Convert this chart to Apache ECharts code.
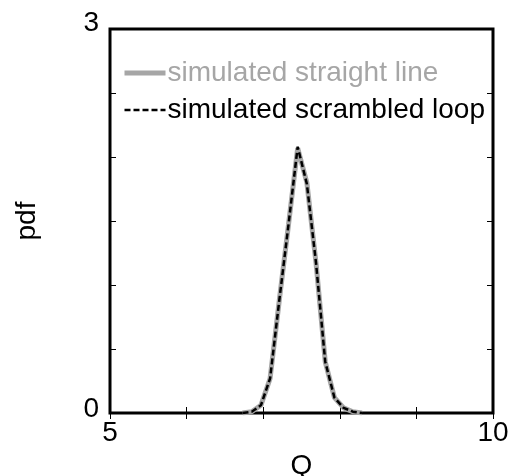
<!DOCTYPE html>
<html>
<head>
<meta charset="utf-8">
<script src="https://cdn.jsdelivr.net/npm/echarts@6/dist/echarts.min.js"></script>
<style>html,body{margin:0;padding:0;background:#fff}#c{width:512px;height:476px}</style>
</head>
<body>
<div id="c"></div>
<script>
const qValues = [6.73, 6.85, 6.97, 7.09, 7.21, 7.33, 7.45, 7.57, 7.69, 7.81, 7.93, 8.05, 8.17, 8.29];
const straightLine = [0, 0.01, 0.06, 0.27, 0.88, 1.47, 2.07, 1.80, 1.17, 0.40, 0.12, 0.04, 0.01, 0];
const scrambledLoop = [0, 0.01, 0.06, 0.27, 0.88, 1.47, 2.08, 1.79, 1.17, 0.40, 0.12, 0.04, 0.01, 0];
const xTickLabels = [5, 10];
const yTickLabels = [0, 3];
const seriesNames = ['simulated straight line', 'simulated scrambled loop'];

const FONT = 'Liberation Sans, Arial, sans-serif';
const chart = echarts.init(document.getElementById('c'), null, {renderer: 'canvas'});
const pairs = (ys) => qValues.map((q, i) => [q, ys[i]]);
const tickStyle = {show: true, inside: true, length: 6, lineStyle: {color: '#000', width: 1}};

chart.setOption({
  animation: false,
  backgroundColor: '#fff',
  grid: {left: 110, right: 19, top: 29, bottom: 63, containLabel: false, outerBoundsMode: 'none',
         show: true, borderColor: '#000', borderWidth: 3, backgroundColor: 'transparent'},
  legend: {
    orient: 'vertical', left: 122, top: 59, padding: 0, itemGap: 9,
    itemWidth: 41, itemHeight: 14,
    itemStyle: {opacity: 0},
    textStyle: {fontFamily: FONT, fontSize: 28, padding: [0, 0, 0, -3]},
    data: [
      {name: seriesNames[0], textStyle: {color: '#a6a6a6'}, lineStyle: {width: 5, color: '#a6a6a6'}},
      {name: seriesNames[1], textStyle: {color: '#000'}, lineStyle: {width: 2.5, color: '#000', type: [6, 3]}}
    ]
  },
  xAxis: [
    {type: 'value', min: 5, max: 10, interval: 1, position: 'bottom',
     name: 'Q', nameLocation: 'middle', nameGap: 39,
     nameTextStyle: {fontFamily: FONT, fontSize: 28, color: '#000'},
     axisLine: {show: false}, axisTick: tickStyle, splitLine: {show: false},
     axisLabel: {fontFamily: FONT, fontSize: 28, color: '#000', margin: 6,
       formatter: v => xTickLabels.includes(v) ? String(v) : ''}},
    {type: 'value', min: 5, max: 10, interval: 1, position: 'top',
     axisLine: {show: false}, axisTick: tickStyle, splitLine: {show: false}, axisLabel: {show: false}}
  ],
  yAxis: [
    {type: 'value', min: 0, max: 3, interval: 0.5, position: 'left',
     name: 'pdf', nameLocation: 'middle', nameGap: 69,
     nameTextStyle: {fontFamily: FONT, fontSize: 28, color: '#000'},
     axisLine: {show: false}, axisTick: tickStyle, splitLine: {show: false},
     axisLabel: {fontFamily: FONT, fontSize: 28, color: '#000', margin: 11,
       formatter: v => v === 3 ? '{t|3}' : (v === 0 ? '{b|0}' : ''),
       rich: {
         t: {fontFamily: FONT, fontSize: 28, color: '#000', padding: [0, 0, 12, 0]},
         b: {fontFamily: FONT, fontSize: 28, color: '#000', padding: [0, 0, 8, 0]}
       }}},
    {type: 'value', min: 0, max: 3, interval: 0.5, position: 'right',
     axisLine: {show: false}, axisTick: tickStyle, splitLine: {show: false}, axisLabel: {show: false}}
  ],
  series: [
    {name: seriesNames[0], type: 'line', data: pairs(straightLine), showSymbol: false, symbol: 'none',
     lineStyle: {color: '#a6a6a6', width: 5}, itemStyle: {color: '#a6a6a6'}, z: 2},
    {name: seriesNames[1], type: 'line', data: pairs(scrambledLoop), showSymbol: false, symbol: 'none',
     lineStyle: {color: '#000', width: 2.5, type: [6, 3]}, itemStyle: {color: '#000'}, z: 3}
  ]
});
</script>
</body>
</html>
